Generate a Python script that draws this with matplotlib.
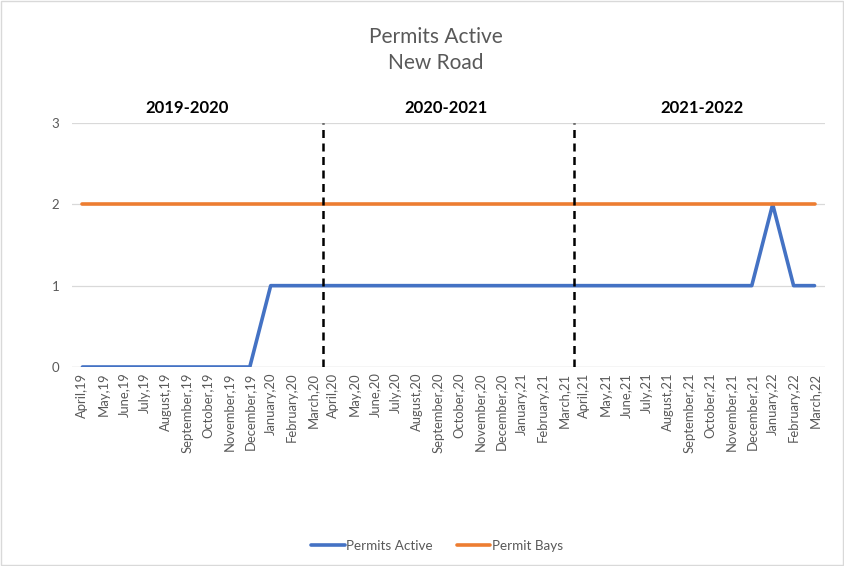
import matplotlib
matplotlib.use("Agg")
import matplotlib.pyplot as plt
from matplotlib.patches import Rectangle

plt.rcParams['font.family'] = ['Lato', 'DejaVu Sans']

months = ["April,19", "May,19", "June,19", "July,19", "August,19", "September,19",
          "October,19", "November,19", "December,19", "January,20", "February,20", "March,20",
          "April,20", "May,20", "June,20", "July,20", "August,20", "September,20",
          "October,20", "November,20", "December,20", "January,21", "February,21", "March,21",
          "April,21", "May,21", "June,21", "July,21", "August,21", "September,21",
          "October,21", "November,21", "December,21", "January,22", "February,22", "March,22"]

permits_active = [0, 0, 0, 0, 0, 0, 0, 0, 0,
                  1, 1, 1, 1, 1, 1, 1, 1, 1, 1, 1, 1, 1, 1, 1,
                  1, 1, 1, 1, 1, 1, 1, 1, 1, 2, 1, 1]
permit_bays = [2] * 36

periods = ["2019-2020", "2020-2021", "2021-2022"]
period_label_x = [5.0, 17.4, 29.6]
period_breaks = [11.5, 23.5]

BLUE = "#4472C4"
ORANGE = "#ED7D31"
GREY_TEXT = "#595959"

fig = plt.figure(figsize=(8.45, 5.66), dpi=100)
fig.patches.append(Rectangle((0.001, 0.001), 0.997, 0.997, transform=fig.transFigure,
                             fill=False, edgecolor="#D9D9D9", linewidth=1))
ax = fig.add_axes([0.0852, 0.3516, 0.8911, 0.4311])

x = list(range(len(months)))
ax.plot(x, permits_active, color=BLUE, linewidth=2.6, label="Permits Active",
        solid_capstyle="round", zorder=3)
ax.plot(x, permit_bays, color=ORANGE, linewidth=2.6, label="Permit Bays",
        solid_capstyle="round", zorder=3)

for b in period_breaks:
    ax.plot([b, b], [0, 3], color="black", linewidth=1.8, linestyle=(0, (3.2, 2.2)), zorder=4)

for lbl, px in zip(periods, period_label_x):
    ax.text(px, 3.18, lbl, ha="center", va="center", fontsize=12, fontweight="bold",
            color="black")

ax.set_xlim(-0.5, 35.5)
ax.set_ylim(0, 3)
ax.set_yticks([0, 1, 2, 3])
ax.set_xticks(x)
ax.set_xticklabels(months, rotation=90, fontsize=9.4, color=GREY_TEXT)
ax.tick_params(axis="y", labelsize=9.5, labelcolor=GREY_TEXT, length=0, pad=9)
ax.tick_params(axis="x", length=0, pad=4)
ax.grid(axis="y", color="#D9D9D9", linewidth=0.9)
ax.set_axisbelow(True)
for s in ax.spines.values():
    s.set_visible(False)
ax.axhline(0, color="#D9D9D9", linewidth=0.9, zorder=1)

fig.text(0.5154, 0.935, "Permits Active", ha="center", va="center", fontsize=15, color=GREY_TEXT)
fig.text(0.5154, 0.889, "New Road", ha="center", va="center", fontsize=15, color=GREY_TEXT)

fig.legend(loc="center", bbox_to_anchor=(0.517, 0.035), ncol=2, frameon=False,
           fontsize=9.7, labelcolor=GREY_TEXT, handlelength=2.5, handletextpad=0.1,
           columnspacing=1.8)

fig.savefig("out.png", dpi=100)
